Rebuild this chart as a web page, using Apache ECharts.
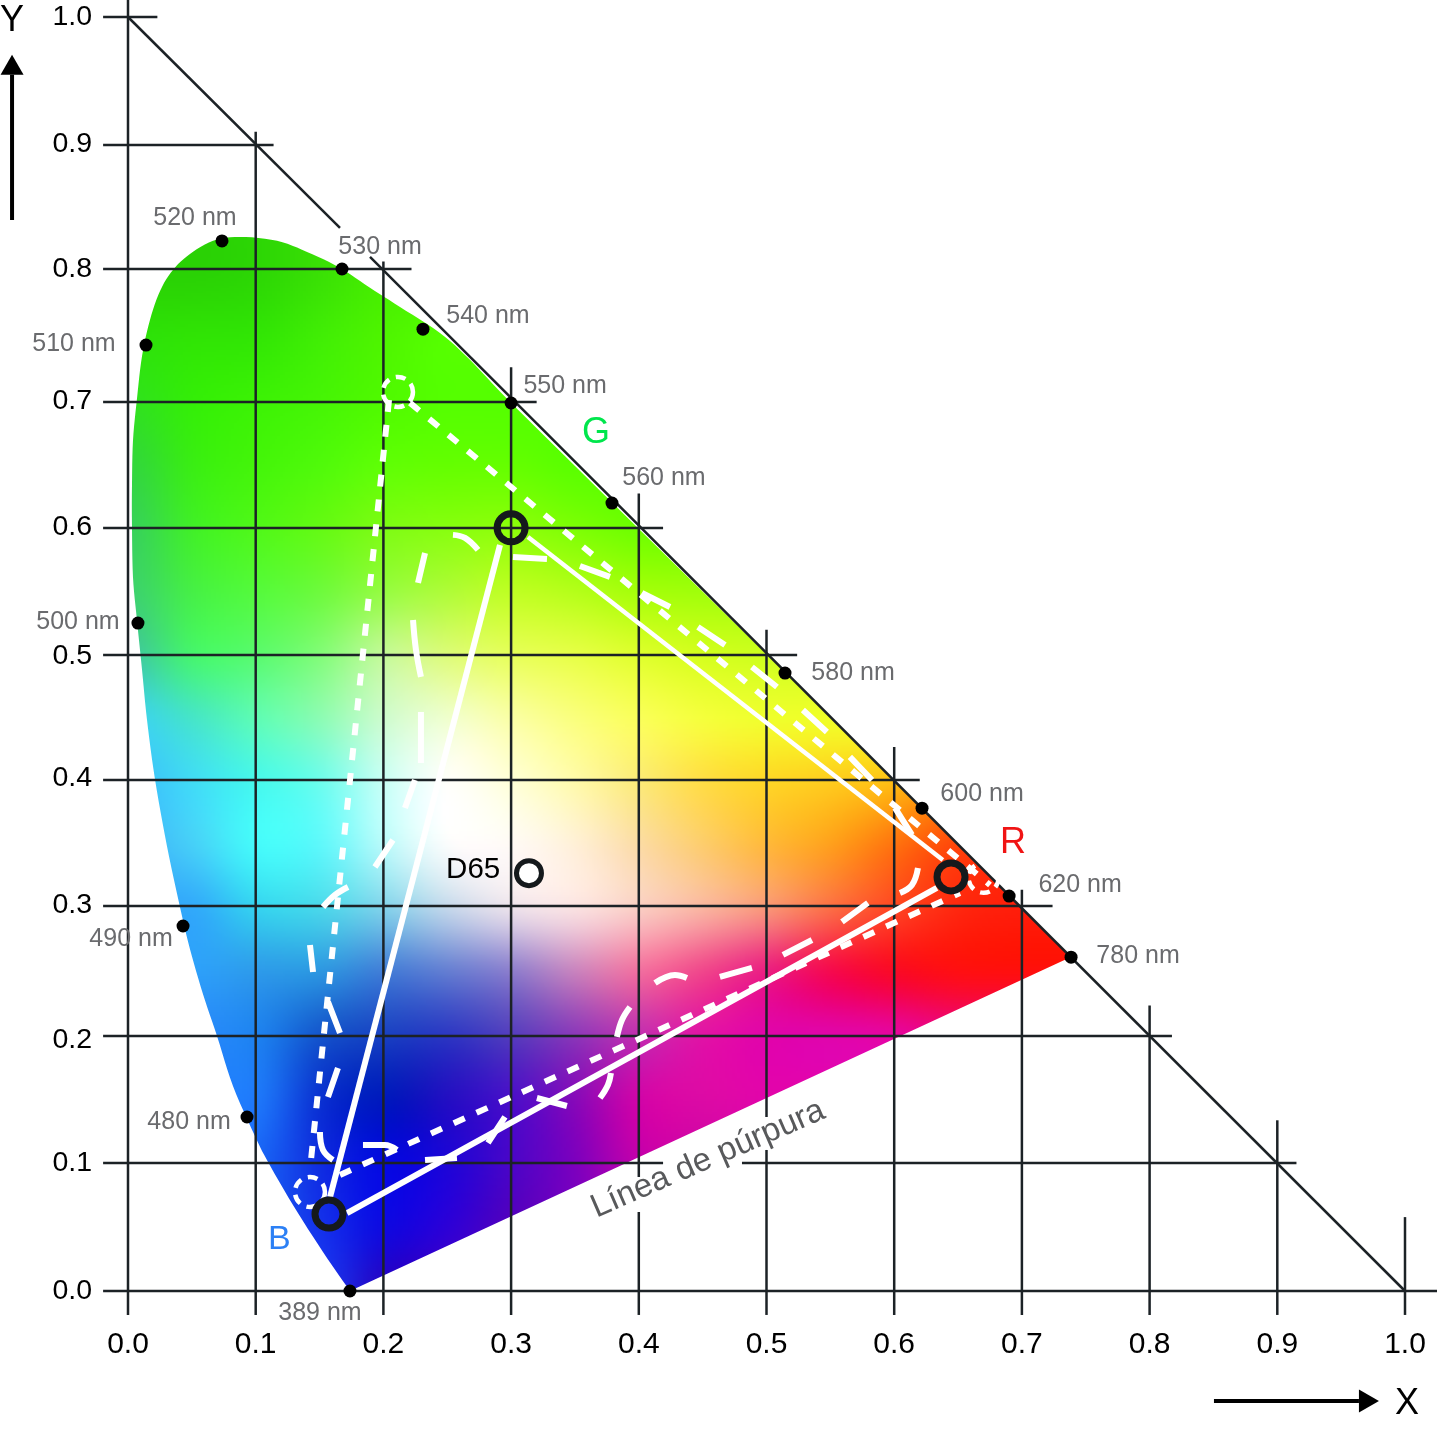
<!DOCTYPE html>
<html><head><meta charset="utf-8">
<style>html,body{margin:0;padding:0;background:#fff}#c{width:1437px;height:1429px}</style>
<script src="https://cdn.jsdelivr.net/npm/echarts@6/dist/echarts.min.js"></script>
</head><body><div id="c"></div>
<script>
const tickValues = [0,0.1,0.2,0.3,0.4,0.5,0.6,0.7,0.8,0.9,1.0];
const horizontalLineY = [0,0.1005,0.2002,0.3022,0.4011,0.4992,0.5989,0.6978,0.8022,0.8995,1.0];
const yLabelPositions = [0,0.1005,0.197,0.303,0.4027,0.4984,0.5997,0.6986,0.8022,0.9003,1.0];
const verticalTops = [1.0134,0.91,0.808,0.725,0.626,0.519,0.427,0.315,0.224,0.134,0.058];
const horizontalEnds = [1.03,0.915,0.8175,0.724,0.62,0.524,0.419,0.32,0.222,0.114,0.023];
const lineStart = -0.0188, lineLeft = -0.0195;
const verticalGaps = {4:[0.0895,0.062],5:[0.1366,0.1107]};
const horizontalGaps = {1:[0.419,0.4808]};
const diagonalParts = [[[0,1],[0.166,0.8345]],[[0.1895,0.8117],[1,0]]];

const locusX = [0.1738,0.7384,0.69,0.6218,0.5145,0.379,0.30,0.2678,0.2443,0.213,0.1895,0.166,0.1402,0.1167,0.0877,0.0666,0.0485,0.0352,0.0251,0.0172,0.0110,0.0070,0.0039,0.0031,0.0031,0.0039,0.0070,0.0110,0.0149,0.0211,0.0305,0.0407,0.0485,0.0587,0.0697,0.0822,0.0994,0.1088,0.1292,0.1527];
const locusY = [0,0.2622,0.31,0.3782,0.4855,0.619,0.6971,0.7309,0.7520,0.7724,0.7874,0.8031,0.8156,0.8243,0.8274,0.8243,0.8140,0.8015,0.7850,0.7622,0.7340,0.7002,0.6673,0.6304,0.6021,0.5605,0.5267,0.4875,0.4482,0.4019,0.3493,0.3014,0.2685,0.2331,0.2002,0.1609,0.1217,0.1028,0.0675,0.0306];

const wavelengthNames = ['389 nm','480 nm','490 nm','500 nm','510 nm','520 nm','530 nm','540 nm','550 nm','560 nm','580 nm','600 nm','620 nm','780 nm'];
const wavelengthX = [0.1738,0.0932,0.0431,0.0078,0.0141,0.0736,0.1676,0.231,0.30,0.379,0.5145,0.6218,0.69,0.7385];
const wavelengthY = [0,0.1366,0.2865,0.5243,0.7425,0.8242,0.8022,0.755,0.697,0.6185,0.485,0.379,0.31,0.262];
const wavelengthLabelOffsets = [[-30,22],[-58,5],[-52,13],[-60,-1],[-72,-1],[-27,-23],[38,-22],[65,-13],[54,-17],[52,-25],[68,0],[60,-14],[71,-11],[67,-1]];

const solidGB = [[0.2913,0.5856],[0.1582,0.0738]];
const solidRG = [[0.3132,0.5919],[0.6381,0.3383]];
const solidBR = [[0.1715,0.0612],[0.6334,0.3164]];
const dottedLeft = [[0.2044,0.6994],[0.1425,0.095]];
const dottedRight = [[0.2208,0.6971],[0.675,0.3187]];
const dottedLower = [[0.166,0.0911],[0.6515,0.3124]];
const primaries = [[0.6445,0.325],[0.30,0.599],[0.1574,0.0604]];
const whitePoint = [0.314,0.328];
const widePrimaries = [[0.67,0.3243],[0.2114,0.7057],[0.1425,0.0777]];

const longDashSegments = [
 [[0.2326,0.5793],[0.2271,0.5558]],
 [[0.2545,0.5935],[0.2639,0.5911],[0.2741,0.5817]],
 [[0.3015,0.5762],[0.3281,0.5746]],
 [[0.3539,0.5691],[0.3774,0.5605]],
 [[0.4025,0.5479],[0.4244,0.5369]],
 [[0.4463,0.5212],[0.4675,0.5071]],
 [[0.4886,0.4898],[0.5082,0.4741]],
 [[0.5285,0.4561],[0.5473,0.4388]],
 [[0.5653,0.4192],[0.5826,0.4011]],
 [[0.6006,0.3792],[0.6139,0.3580]],
 [[0.6186,0.3321],[0.6139,0.3187],[0.6045,0.3124]],
 [[0.5794,0.3046],[0.5591,0.2897]],
 [[0.5356,0.2755],[0.5129,0.2638]],
 [[0.4886,0.2536],[0.4635,0.2465]],
 [[0.4377,0.2457],[0.4283,0.2481],[0.4127,0.2418]],
 [[0.3931,0.2229],[0.3868,0.2127],[0.3829,0.1994]],
 [[0.3782,0.1711],[0.3758,0.1617],[0.3696,0.1515]],
 [[0.3437,0.1452],[0.3202,0.1515]],
 [[0.2952,0.1366],[0.2819,0.1162]],
 [[0.2576,0.1044],[0.2326,0.1028]],
 [[0.2106,0.1107],[0.2012,0.1146],[0.1840,0.1146]],
 [[0.1605,0.1028],[0.1527,0.1107],[0.1503,0.1248]],
 [[0.1644,0.1751],[0.1566,0.1523]],
 [[0.1660,0.2025],[0.1566,0.2269]],
 [[0.1449,0.2504],[0.1425,0.2716]],
 [[0.1527,0.3014],[0.1621,0.3109],[0.1723,0.3171]],
 [[0.1934,0.3328],[0.2075,0.3540]],
 [[0.2169,0.3792],[0.2247,0.4011]],
 [[0.2294,0.4145],[0.2294,0.4545]],
 [[0.2294,0.4820],[0.2255,0.5032],[0.2232,0.5267]]
];

// colour field samples: rows y=0,0.05..0.85, columns x=0,0.05..0.75
const colorRows = [
 ['#1a5aee','#1a5aee','#1a5aee','#1a3cf0','#2805c3','#4600be','#6400be'],
 ['#1a5af0','#1a5af0','#195af0','#1432eb','#0f0ae1','#2d00d7','#5500be','#7800be','#9a00b8'],
 ['#1e78f5','#1e78f5','#1964f5','#0f2de1','#050ae1','#1e05d7','#4b05c8','#7d00be','#c000ac','#c805a8','#cc05aa'],
 ['#1e78fa','#1e78fa','#1e78fa','#0a32d2','#0019be','#230fc3','#4b0fc8','#870ab9','#d005a8','#dc0aa5','#e105aa','#e105aa'],
 ['#2887fa','#2887fa','#1e82f0','#1455cd','#1941c3','#2d37c3','#553cbe','#8c37b9','#c32daf','#e114a5','#e105aa','#e105aa','#e605a0','#eb0582'],
 ['#2da0fa','#2da0fa','#2d9beb','#2d96e1','#417dd7','#647dd2','#8c7dcd','#c882be','#f06ea0','#f0468c','#eb1e82','#f50a50','#fa0a28','#ff0f14','#ff0f0f'],
 ['#32aafa','#32aafa','#36d2f0','#4bd7eb','#82d2eb','#c3d7eb','#ebe1eb','#fae1e1','#facdc3','#fab4a0','#fa9678','#fc6e46','#ff4623','#ff280f','#ff1e0a'],
 ['#3cb4fa','#46d0f8','#46fafa','#5ff8fa','#b9fafa','#fafcfc','#fffaf5','#fff0d7','#fcdca5','#fdcd6e','#ffb93c','#ffa01e','#ff730f','#ff460a','#ff320a'],
 ['#3cbefa','#41dcf5','#48f8ec','#6efcec','#c8fff5','#fffffa','#ffffd7','#fffaaa','#fceb78','#ffde46','#ffd728','#ffcd1e','#ffbe14','#ff960a','#ff6e0a'],
 ['#3cd2f0','#46e6c8','#5ffcb4','#8cfcb4','#cdfccd','#f0ffcd','#faffa5','#faff7d','#faff5a','#f5ff3c','#f0ff2d','#f0ff28','#f0ff28'],
 ['#3ec8a0','#46f56e','#5afa6e','#82fc78','#c3fa96','#dcfc78','#e6ff5a','#e6ff46','#deff2d','#d4ff1e','#cdff1e','#cdff1e'],
 ['#3cd26e','#46f046','#55fa3c','#6efa3c','#96fc41','#affc37','#beff23','#b4ff19','#a5ff0a','#a0ff0a','#a0ff0a'],
 ['#37d25a','#41f028','#50f819','#64fa14','#7dfc14','#87ff0f','#8cff0a','#7dff05','#6eff00'],
 ['#32d73c','#3aee14','#44f50a','#50fa0a','#5fff05','#64ff00','#64ff00','#5aff00'],
 ['#30e11e','#34ee08','#3cf205','#46f505','#50fa00','#55ff00','#55ff00'],
 ['#2de10a','#30e405','#32e605','#41ee05','#4ef500','#55ff00'],
 ['#2ad205','#2ad205','#2dd705','#3ae105','#46ee00'],
 ['#2ad205','#2ad205','#2dd705','#3ae105','#46ee00']
];

function hexAt(r, c){
  const row = colorRows[Math.max(0, Math.min(colorRows.length-1, r))];
  const h = row[Math.max(0, Math.min(row.length-1, c))];
  return [parseInt(h.substr(1,2),16),parseInt(h.substr(3,2),16),parseInt(h.substr(5,2),16)];
}
function cr(a,b,c,d,t){return 0.5*((2*b)+(-a+c)*t+(2*a-5*b+4*c-d)*t*t+(-a+3*b-3*c+d)*t*t*t);}
function buildField(){
  const W=375,H=425,cv=document.createElement('canvas');cv.width=W;cv.height=H;
  const g=cv.getContext('2d'),im=g.createImageData(W,H);
  for(let j=0;j<H;j++){
    const fy=(1-j/(H-1))*17,r0=Math.floor(fy),ty=fy-r0;
    for(let i=0;i<W;i++){
      const fx=i/(W-1)*15,c0=Math.floor(fx),tx=fx-c0,col=[];
      for(let k=0;k<3;k++){
        const v=[];
        for(let m=-1;m<=2;m++){
          v.push(cr(hexAt(r0+m,c0-1)[k],hexAt(r0+m,c0)[k],hexAt(r0+m,c0+1)[k],hexAt(r0+m,c0+2)[k],tx));
        }
        col[k]=cr(v[0],v[1],v[2],v[3],ty);
      }
      const p=(j*W+i)*4;
      im.data[p]=col[0];im.data[p+1]=col[1];im.data[p+2]=col[2];im.data[p+3]=255;
    }
  }
  g.putImageData(im,0,0);return cv;
}
const fieldCanvas = buildField();

function smoothOutline(pts,from){
  const out=pts.slice(0,from+1),c=pts.slice(from).concat([pts[0]]);
  for(let i=0;i<c.length-1;i++){
    const p0=c[Math.max(0,i-1)],p1=c[i],p2=c[i+1],p3=c[Math.min(c.length-1,i+2)];
    for(let s=1;s<=6;s++){
      const t=s/6;
      out.push([cr(p0[0],p1[0],p2[0],p3[0],t),cr(p0[1],p1[1],p2[1],p3[1],t)]);
    }
  }
  return out;
}

const gridSegments = [];
tickValues.forEach((t,i)=>{
  const g=verticalGaps[i];
  if(g){gridSegments.push([t,verticalTops[i],t,g[0]],[t,g[1],t,lineStart]);}
  else gridSegments.push([t,verticalTops[i],t,lineStart]);
  const h=horizontalGaps[i],y=horizontalLineY[i];
  if(h){gridSegments.push([lineLeft,y,h[0],y],[h[1],y,horizontalEnds[i],y]);}
  else gridSegments.push([lineLeft,y,horizontalEnds[i],y]);
});
diagonalParts.forEach(p=>gridSegments.push([p[0][0],p[0][1],p[1][0],p[1][1]]));

const textItems = [
 {t:'G',x:0.3664,y:0.6735,c:'#00e64c',s:36},
 {t:'R',x:0.6930,y:0.3517,c:'#f01414',s:36},
 {t:'B',x:0.1185,y:0.0405,c:'#2c80f5',s:34},
 {t:'D65',x:0.2703,y:0.3309,c:'#000',s:29.5},
 {t:'X',x:1.0016,y:-0.0885,c:'#000',s:36},
 {t:'Y',x:-0.0908,y:0.9967,c:'#000',s:36},
 {t:'Línea de púrpura',x:0.4542,y:0.1034,c:'#58595b',s:33,rot:23.5}
];
const arrowX = [[0.8504,-0.0864],[0.9796,-0.0864]];
const arrowY = [[-0.0908,0.8407],[-0.0908,0.9703]];

function lineSeries(data,width,dash,z,smooth){
  return {type:'line',data:data,symbol:'none',silent:true,clip:false,z:z,animation:false,connectNulls:false,smooth:smooth||false,
    lineStyle:{color:'#fff',width:width,type:dash||'solid',cap:'butt',join:'round'}};
}
const longDashData=[];
longDashSegments.forEach(s=>{s.forEach(p=>longDashData.push(p));longDashData.push(['-','-']);});
const font='"Liberation Sans",Arial,Helvetica,sans-serif';

const option={
  animation:false,backgroundColor:'#fff',
  grid:{left:128,top:17,width:1277,height:1274,containLabel:false},
  xAxis:{type:'value',min:0,max:1,interval:0.1,axisLine:{show:false},axisTick:{show:false},splitLine:{show:false},
    axisLabel:{margin:39,color:'#000',fontSize:30,fontFamily:font,formatter:v=>v.toFixed(1)}},
  yAxis:{type:'value',min:0,max:1,interval:0.1,axisLine:{show:false},axisTick:{show:false},splitLine:{show:false},
    axisLabel:{margin:36,color:'#000',fontSize:28.5,fontFamily:font,padding:[2,0,0,0],customValues:yLabelPositions,formatter:v=>Number(v).toFixed(1)}},
  series:[
   {type:'custom',z:1,silent:true,clip:false,coordinateSystem:'cartesian2d',data:[[0,0]],encode:{x:0,y:1},
    renderItem:(p,api)=>{
      const a=api.coord([0,0.85]),b=api.coord([0.75,0]);
      const pts=smoothOutline(locusX.map((x,i)=>api.coord([x,locusY[i]])),5);
      return {type:'image',style:{image:fieldCanvas,x:a[0],y:a[1],width:b[0]-a[0],height:b[1]-a[1]},
        clipPath:{type:'polygon',shape:{points:pts}},silent:true};
    }},
   {type:'custom',z:2,silent:true,clip:false,coordinateSystem:'cartesian2d',data:gridSegments,encode:{x:[0,2],y:[1,3]},
    renderItem:(p,api)=>{
      const a=api.coord([api.value(0),api.value(1)]),b=api.coord([api.value(2),api.value(3)]);
      return {type:'line',shape:{x1:a[0],y1:a[1],x2:b[0],y2:b[1]},style:{stroke:'#1c2226',lineWidth:2.5,fill:null}};
    }},
   lineSeries(longDashData,6,null,3,0.4),
   lineSeries(dottedLeft,6,[12,13],3),
   lineSeries(dottedRight,6,[12,13],3),
   lineSeries(dottedLower,6,[12,13],3),
   lineSeries(solidGB,6,null,4),
   lineSeries(solidRG,4.5,null,4),
   lineSeries(solidBR,6,null,4),
   {type:'custom',z:3,silent:true,clip:false,coordinateSystem:'cartesian2d',data:widePrimaries,encode:{x:0,y:1},
    renderItem:(p,api)=>{
      const a=api.coord([api.value(0),api.value(1)]);
      return {type:'circle',shape:{cx:a[0],cy:a[1],r:15},style:{fill:null,stroke:'#fff',lineWidth:4.5,lineDash:[10,7]}};
    }},
   {type:'scatter',z:6,silent:true,clip:false,data:primaries,symbol:'circle',symbolSize:28,
    itemStyle:{color:'rgba(0,0,0,0)',borderColor:'#15191c',borderWidth:7,opacity:1}},
   {type:'scatter',z:6,silent:true,clip:false,data:[whitePoint],symbol:'circle',symbolSize:25,
    itemStyle:{color:'#fff',borderColor:'#15191c',borderWidth:5,opacity:1}},
   {type:'scatter',z:7,silent:true,clip:false,symbol:'circle',symbolSize:13,itemStyle:{color:'#000',opacity:1},
    data:wavelengthNames.map((n,i)=>({name:n,value:[wavelengthX[i],wavelengthY[i]],
      label:{show:true,position:'inside',align:'center',verticalAlign:'middle',offset:wavelengthLabelOffsets[i],formatter:n,
        color:'#6a6b6e',fontSize:25,fontFamily:font}}))},
   {type:'custom',z:8,silent:true,clip:false,coordinateSystem:'cartesian2d',data:textItems.map(d=>[d.x,d.y]),encode:{x:0,y:1},
    renderItem:(p,api)=>{
      const d=textItems[p.dataIndex],a=api.coord([d.x,d.y]);
      return {type:'text',x:a[0],y:a[1],rotation:(d.rot||0)*Math.PI/180,
        style:{text:d.t,fill:d.c,font:d.s+'px '+font,align:'center',verticalAlign:'middle'}};
    }},
   {type:'custom',z:8,silent:true,clip:false,coordinateSystem:'cartesian2d',data:[arrowX[0].concat(arrowX[1]),arrowY[0].concat(arrowY[1])],encode:{x:[0,2],y:[1,3]},
    renderItem:(p,api)=>{
      const a=api.coord([api.value(0),api.value(1)]),b=api.coord([api.value(2),api.value(3)]);
      const L=Math.hypot(b[0]-a[0],b[1]-a[1]),ux=(b[0]-a[0])/L,uy=(b[1]-a[1])/L,h=20,w=11.5;
      const bx=b[0]-ux*h,by=b[1]-uy*h;
      return {type:'group',children:[
        {type:'line',shape:{x1:a[0],y1:a[1],x2:bx,y2:by},style:{stroke:'#000',lineWidth:4,fill:null}},
        {type:'polygon',shape:{points:[b,[bx-uy*w,by+ux*w],[bx+uy*w,by-ux*w]]},style:{fill:'#000'}}
      ]};
    }}
  ]
};
echarts.init(document.getElementById('c'),null,{renderer:'canvas'}).setOption(option);
</script></body></html>
